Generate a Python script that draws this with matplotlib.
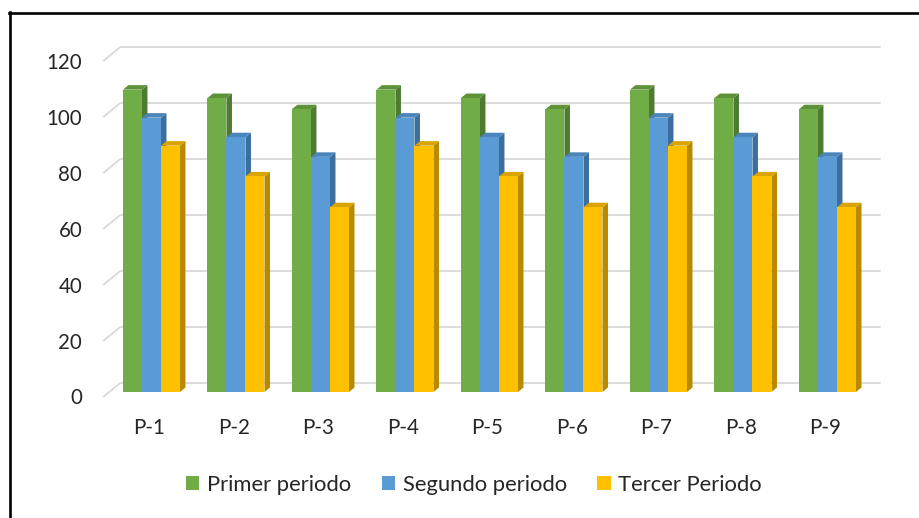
import matplotlib
matplotlib.use("Agg")
import matplotlib.pyplot as plt
from matplotlib.patches import Polygon, Patch
from matplotlib.lines import Line2D
import numpy as np

# ---- data ----
categories = ["P-1", "P-2", "P-3", "P-4", "P-5", "P-6", "P-7", "P-8", "P-9"]
primer_periodo = [108, 105, 101, 108, 105, 101, 108, 105, 101]
segundo_periodo = [98, 91, 84, 98, 91, 84, 98, 91, 84]
tercer_periodo = [88, 77, 66, 88, 77, 66, 88, 77, 66]
series_names = ["Primer periodo", "Segundo periodo", "Tercer Periodo"]
y_ticks = [0, 20, 40, 60, 80, 100, 120]

# ---- style ----
front_colors = ["#70AD47", "#5B9BD5", "#FFC000"]
side_colors = ["#4E7A31", "#3C6E9E", "#B88A00"]
top_colors = ["#5E9238", "#4A85BC", "#D9A300"]
grid_color = "#D9D9D9"
text_color = "#262626"
font = "Lato"
fs = 14.8
legend_fs = 15.8

W, H, DPI = 919, 518, 100
fig = plt.figure(figsize=(W / DPI, H / DPI), dpi=DPI)

# axes placed in pixel units
ax_left, ax_right, ax_top, ax_bottom = 100, 890, 30, 410
ax = fig.add_axes([ax_left / W, 1 - ax_bottom / H,
                   (ax_right - ax_left) / W, (ax_bottom - ax_top) / H])
xlim = (-0.609, 8.740)
ylim = (-6.43, 129.3)
ax.set_xlim(*xlim)
ax.set_ylim(*ylim)
ax.axis("off")

# pixel -> data conversion factors
px_x = (xlim[1] - xlim[0]) / (ax_right - ax_left)
px_y = (ylim[1] - ylim[0]) / (ax_bottom - ax_top)

x = np.arange(len(categories))
bar_w = 0.225
series = [primer_periodo, segundo_periodo, tercer_periodo]
offsets = [-bar_w, 0.0, bar_w]

# depth vectors (pixels): bar side depth, back wall, front edge
side_dx, side_dy = 5.5 * px_x, 4.5 * px_y
back_dx, back_dy = 11 * px_x, 9 * px_y
front_dx, front_dy = -6 * px_x, -5 * px_y

# gridlines on back wall with the diagonal on the side wall
x_left = -0.5
x_right = len(categories) - 0.5
for v in y_ticks:
    ax.plot([x_left + front_dx, x_left + back_dx, x_right + back_dx],
            [v + front_dy, v + back_dy, v + back_dy],
            color=grid_color, lw=1.3, zorder=1, solid_capstyle="butt")
    ax.text(x_left + front_dx - 21 * px_x, v + front_dy - 1.5 * px_y, str(v),
            ha="right", va="center", fontsize=fs, family=font,
            color=text_color, clip_on=False)

# bars with 3D-looking side and top faces
for k, (vals, off) in enumerate(zip(series, offsets)):
    bars = ax.bar(x + off, vals, width=bar_w, color=front_colors[k],
                  linewidth=0, zorder=3 + 3 * k)
    for rect in bars:
        x0 = rect.get_x()
        x1 = x0 + rect.get_width()
        h = rect.get_height()
        side = Polygon([(x1, 0), (x1 + side_dx, side_dy),
                        (x1 + side_dx, h + side_dy), (x1, h)],
                       closed=True, facecolor=side_colors[k],
                       edgecolor="none", zorder=2 + 3 * k)
        top = Polygon([(x0, h), (x0 + side_dx, h + side_dy),
                       (x1 + side_dx, h + side_dy), (x1, h)],
                      closed=True, facecolor=top_colors[k],
                      edgecolor="none", zorder=2 + 3 * k)
        ax.add_patch(side)
        ax.add_patch(top)

# category labels on the front edge
for i, c in enumerate(categories):
    ax.text(i - 2 * px_x, -13.0, c, ha="center", va="center",
            fontsize=fs, family=font, color=text_color, clip_on=False)

# legend
handles = [Patch(facecolor=c, edgecolor="none") for c in front_colors]
leg = fig.legend(handles, series_names, loc="center",
                 bbox_to_anchor=(474 / W, 1 - 485 / H), ncol=3,
                 frameon=False, handlelength=0.6, handleheight=0.6,
                 handletextpad=0.35, columnspacing=1.4,
                 prop={"family": font, "size": legend_fs})
for t in leg.get_texts():
    t.set_color(text_color)

# frame lines (top and left)
fig.add_artist(Line2D([9.5 / W, 9.5 / W], [0, 1 - 11.5 / H],
                      transform=fig.transFigure, color="black", lw=1.9))
fig.add_artist(Line2D([8.5 / W, 1], [1 - 12.5 / H, 1 - 12.5 / H],
                      transform=fig.transFigure, color="black", lw=1.9))

fig.savefig("out.png", dpi=DPI, facecolor="white")
